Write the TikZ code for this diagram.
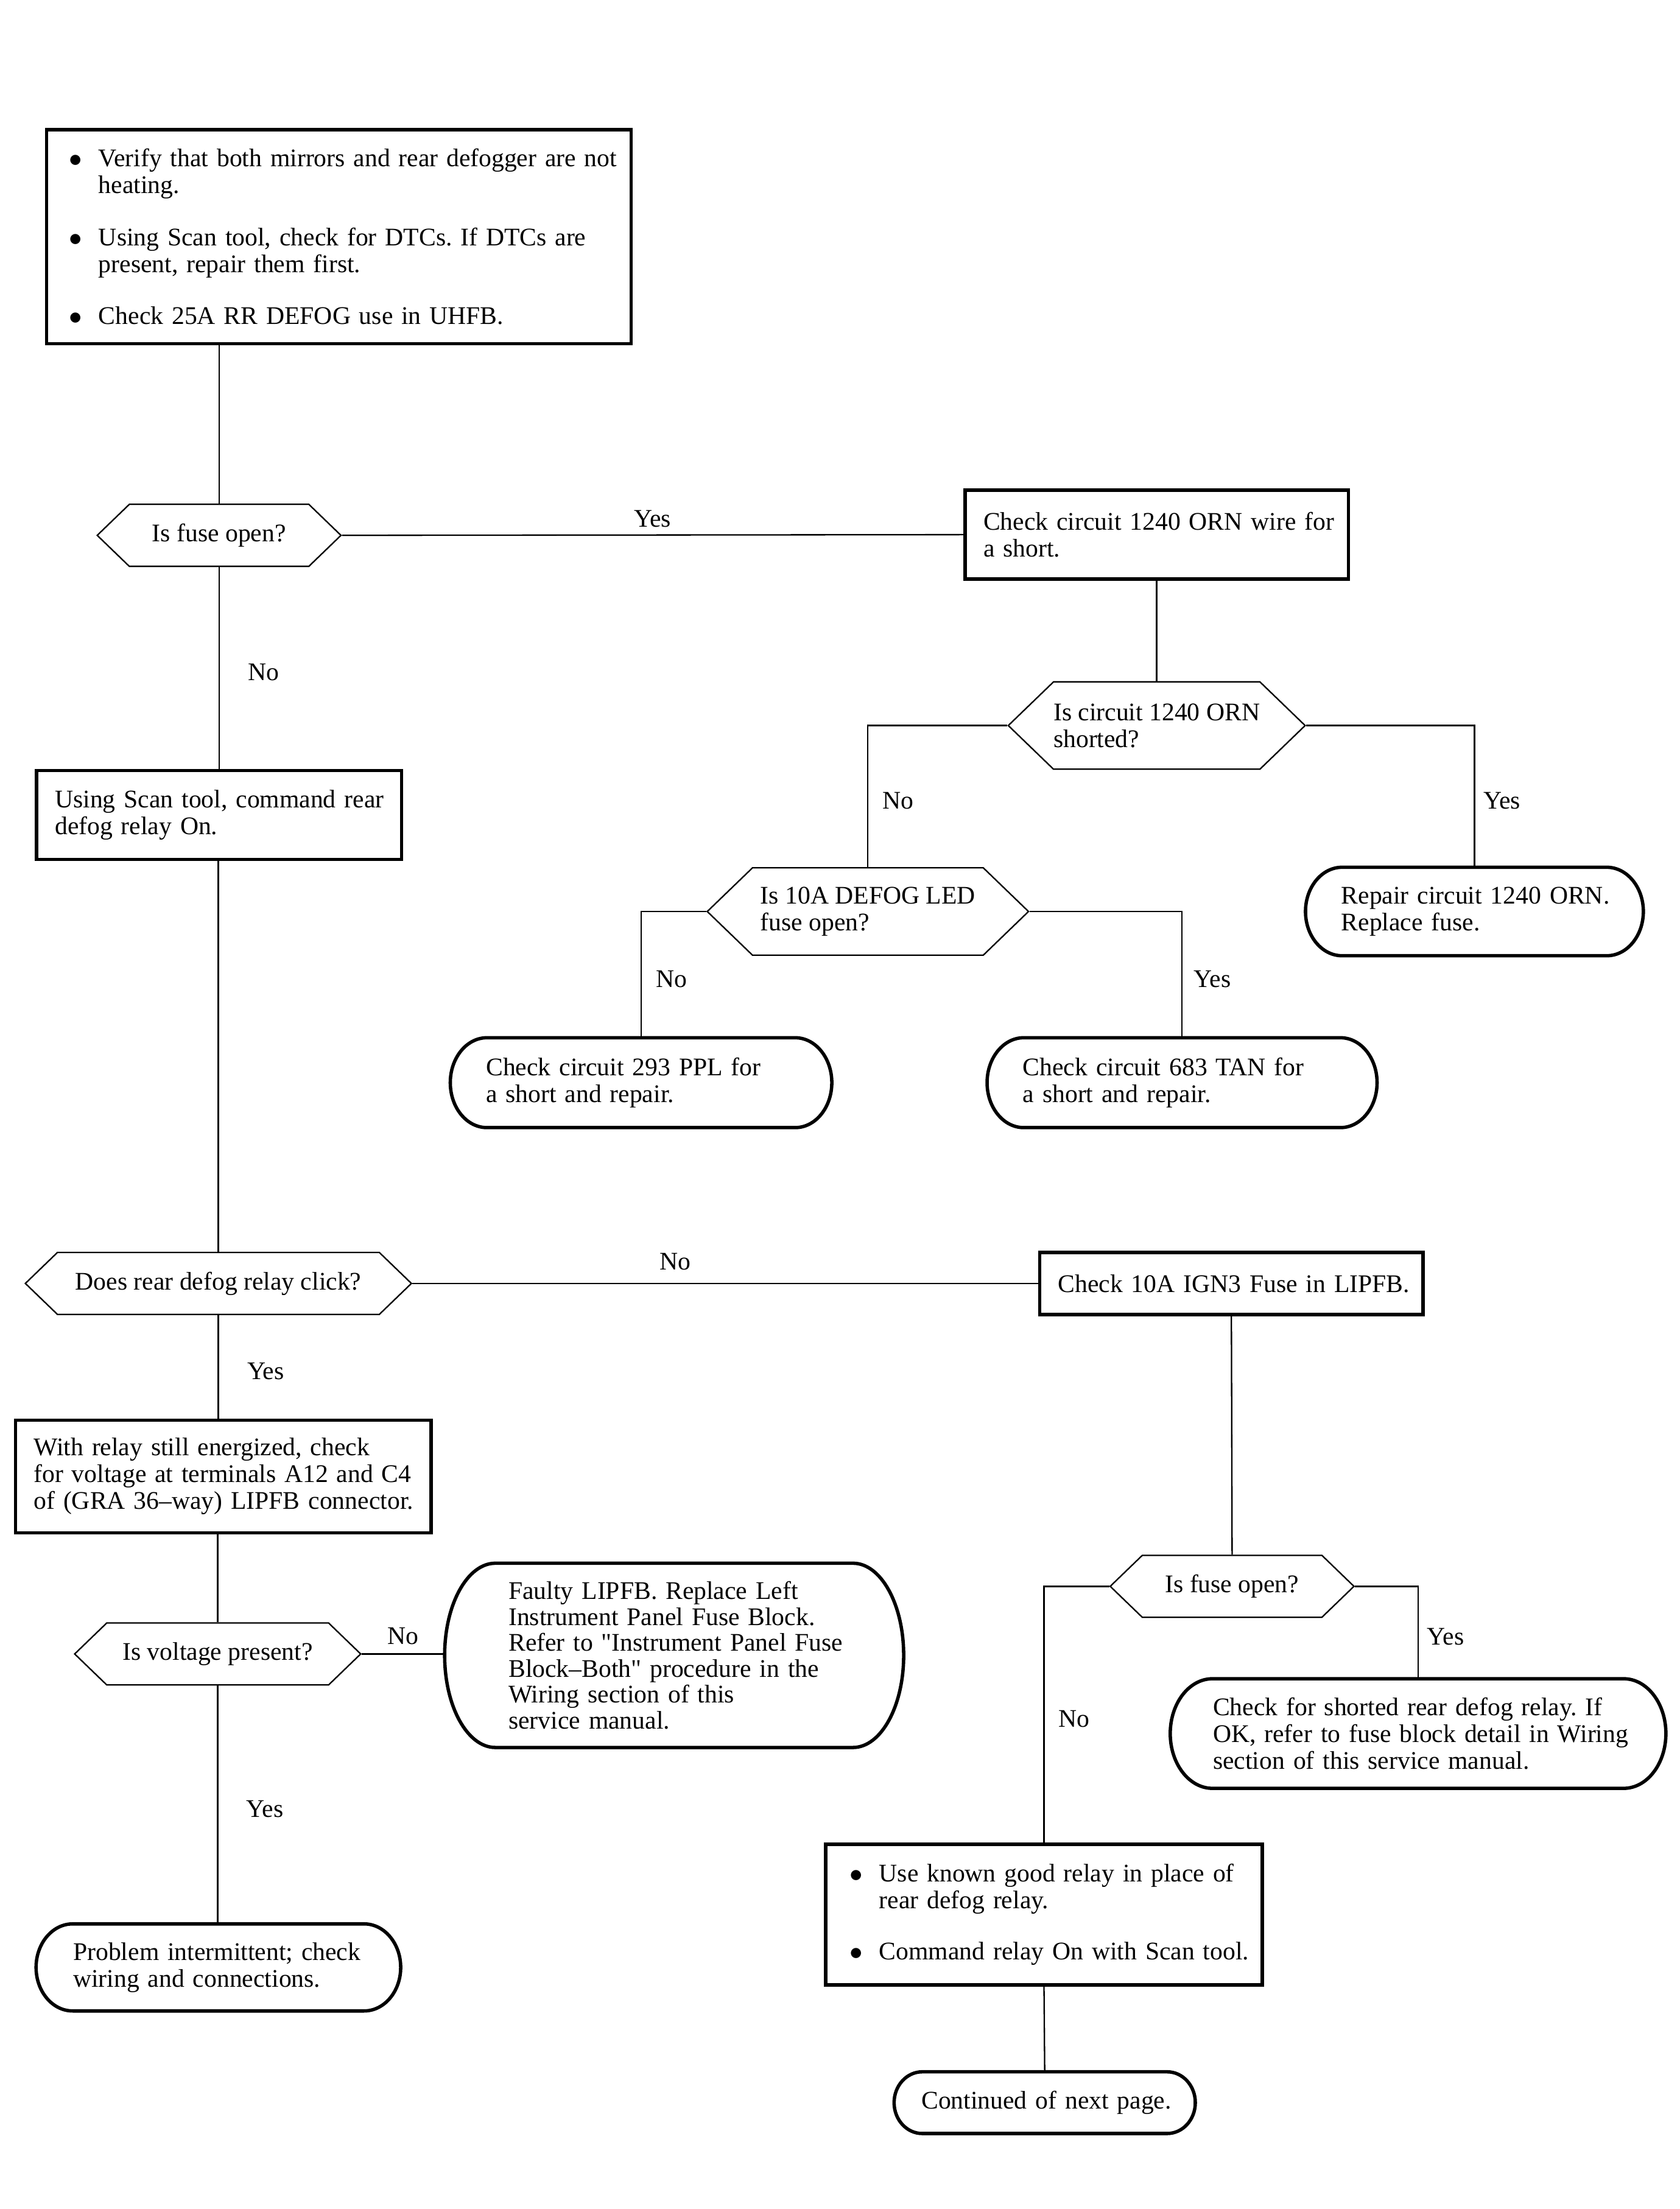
\documentclass[tikz,border=0pt]{standalone}
\usepackage{fontspec}
\setmainfont{Liberation Serif}
\usetikzlibrary{shapes.symbols, calc}

\tikzset{
  every node/.style={font=\fontsize{9}{9.5}\selectfont},
  lpad/.style={inner xsep=0pt, execute at begin node={\frenchspacing\leftskip=#1}},
  box/.style={draw, line width=1.2pt, align=left, inner ysep=0pt},
  term/.style={align=left, inner ysep=0pt},
  decide/.style={draw, line width=0.5pt, signal, signal to=east and west,
    signal pointer angle=88, inner sep=0pt, align=left},
  lbl/.style={inner sep=0pt},
  vlbl/.style={inner sep=0pt, yshift=-1.5pt},
  link/.style={line width=0.5pt},
  termline/.style={line width=1.2pt}
}
\newcommand{\bul}{\makebox[10.5pt][l]{$\bullet$}}
\newcommand{\ind}{\hspace*{10.5pt}}

\begin{document}
\begin{tikzpicture}[x=0.5pt, y=-0.5pt]
\useasboundingbox (0,0) rectangle (1192,1568);

% left column
  \node[box, text width=207.5pt, lpad=8pt, minimum height=76pt] (verify) at (240.5,168)
    {\bul Verify that both mirrors and rear defogger are not\\ \ind heating.\\[9pt]
     \bul Using Scan tool, check for DTCs. If DTCs are\\ \ind present, repair them first.\\[9pt]
     \bul Check 25A RR DEFOG use in UHFB.};
  \node[decide, minimum width=86.5pt, minimum height=22pt] (isfuse) at (155.5,380) {Is fuse open?};
  \node[box, text width=129.5pt, lpad=6.5pt, minimum height=31.5pt] (cmdrelay) at (155.5,578.5)
    {Using Scan tool, command rear\\ defog relay On.};
  \node[decide, minimum width=137pt, minimum height=22pt] (isclick) at (155,911) {Does rear defog relay click?};
  \node[box, text width=147.5pt, lpad=6.5pt, minimum height=40pt] (energized) at (158.5,1048)
    {With relay still energized, check\\ for voltage at terminals A12 and C4\\ of (GRA 36--way) LIPFB connector.};
  \node[decide, minimum width=101.5pt, minimum height=22pt] (isvolt) at (154.5,1174) {Is voltage present?};
  \node[term, text width=129pt, lpad=13pt, minimum height=30.5pt] (intermit) at (155,1396.5)
    {Problem intermittent; check\\ wiring and connections.};
  \node[term, text width=162.5pt, lpad=22.5pt, minimum height=65pt,
    font=\fontsize{9}{9.2}\selectfont] (faulty) at (478.5,1175)
    {Faulty LIPFB. Replace Left\\ Instrument Panel Fuse Block.\\ Refer to \textquotedbl Instrument Panel Fuse\\
     Block--Both\textquotedbl{} procedure in the\\ Wiring section of this\\ service manual.};

% upper right branch
  \node[box, text width=136pt, lpad=6.5pt, minimum height=31.5pt] (chk1240) at (821,379.5)
    {Check circuit 1240 ORN wire for\\ a short.};
  \node[decide, minimum width=105pt, minimum height=31pt] (isshort) at (821,515)
    {Is circuit 1240 ORN\\ shorted?};
  \node[term, text width=119.5pt, lpad=12.5pt, minimum height=31pt] (rep1240) at (1046.5,647)
    {Repair circuit 1240 ORN.\\ Replace fuse.};
  \node[decide, minimum width=114pt, minimum height=31pt] (isled) at (616,647)
    {Is 10A DEFOG LED\\ fuse open?};
  \node[term, text width=135pt, lpad=12.5pt, minimum height=31.5pt] (chk293) at (455,768.5)
    {Check circuit 293 PPL for\\ a short and repair.};
  \node[term, text width=138pt, lpad=12.5pt, minimum height=31.5pt] (chk683) at (839,768.5)
    {Check circuit 683 TAN for\\ a short and repair.};

% lower right branch
  \node[box, text width=136pt, lpad=6.5pt, minimum height=22pt] (chkign) at (874,911)
    {Check 10A IGN3 Fuse in LIPFB.};
  \node[decide, minimum width=86.5pt, minimum height=22pt] (isfuse2) at (874.5,1126) {Is fuse open?};
  \node[term, text width=175.5pt, lpad=15pt, minimum height=38.5pt] (chkshort) at (1006.5,1230.5)
    {Check for shorted rear defog relay. If\\ OK, refer to fuse block detail in Wiring\\ section of this service manual.};
  \node[box, text width=155pt, lpad=8.5pt, minimum height=50pt] (goodrelay) at (741,1359)
    {\bul Use known good relay in place of\\ \ind rear defog relay.\\[8.5pt]
     \bul Command relay On with Scan tool.};
  \node[term, text width=106.5pt, lpad=9.5pt, minimum height=21.5pt] (contd) at (741.5,1492.5)
    {Continued of next page.};

% rounded ends
  \foreach \nm/\rad in {intermit/13pt, faulty/18pt, rep1240/13pt, chk293/13pt,
                        chk683/13pt, chkshort/15pt, contd/10pt}
    \draw[termline] let \p1=(\nm.north east), \p2=(\nm.south west), \n1={(\y1-\y2)/2} in
      (\x2+\rad,\y1) -- (\x1-\rad,\y1)
      arc[start angle=90, end angle=-90, x radius=\rad, y radius=\n1]
      -- (\x2+\rad,\y2)
      arc[start angle=270, end angle=90, x radius=\rad, y radius=\n1] -- cycle;

% links
  \draw[link] (isfuse.north |- verify.south) -- (isfuse.north);
  \draw[link] (isfuse.east) -- node[lbl, midway, above=2.5pt] {Yes} (chk1240.west);
  \draw[link] (isfuse.south) -- node[vlbl, midway, right=10pt] {No} (isfuse.south |- cmdrelay.north);
  \draw[link] (chk1240.south) -- (isshort.north);
  \draw[link] (isshort.west) -| node[vlbl, pos=0.75, right=5pt] {No} (isled.north);
  \draw[link] (isshort.east) -| node[vlbl, pos=0.75, right=3pt] {Yes} (rep1240.north);
  \draw[link] (isled.west) -| node[vlbl, pos=0.75, right=5pt] {No} (chk293.north);
  \draw[link] (isled.east) -| node[vlbl, pos=0.75, right=4pt] {Yes} (chk683.north);
  \draw[link] (isclick |- cmdrelay.south) -- (isclick.north);
  \draw[link] (isclick.east) -- node[lbl, pos=0.42, above=4.5pt] {No} (chkign.west);
  \draw[link] (isclick.south) -- node[vlbl, midway, right=10pt] {Yes} (isclick.south |- energized.north);
  \draw[link] (isvolt.north |- energized.south) -- (isvolt.north);
  \draw[link] (isvolt.east) -- node[lbl, midway, above=3pt] {No} (isvolt.east -| faulty.west);
  \draw[link] (isvolt.south) -- node[vlbl, midway, right=10pt] {Yes} (isvolt.south |- intermit.north);
  \draw[link] (chkign.south) -- (isfuse2.north);
  \draw[link] (isfuse2.west) -| node[vlbl, pos=0.75, right=5pt] {No} (goodrelay.north);
  \draw[link] (isfuse2.east) -| node[vlbl, pos=0.75, right=3pt] {Yes} (chkshort.north);
  \draw[link] (goodrelay.south) -- (contd.north);
\end{tikzpicture}
\end{document}
